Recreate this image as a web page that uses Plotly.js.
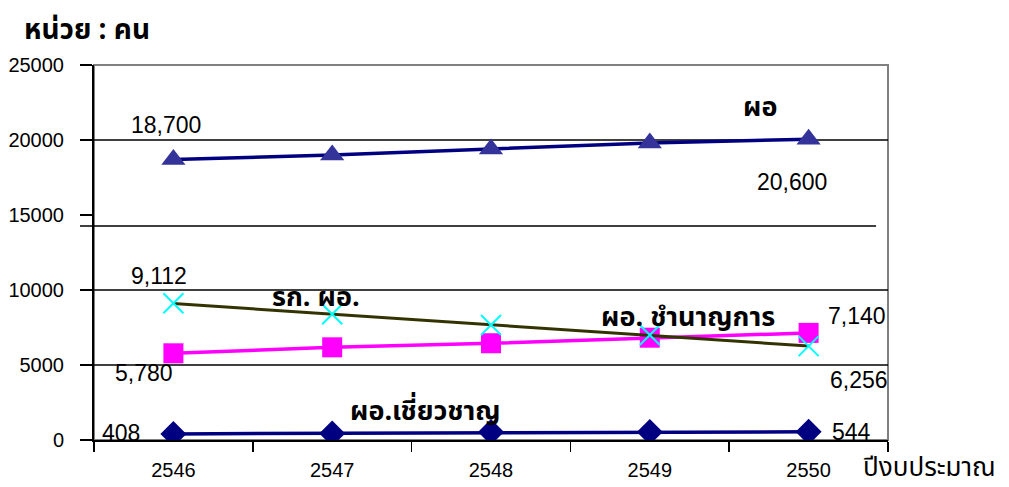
<!DOCTYPE html>
<html>
<head>
<meta charset="utf-8">
<script src="https://cdn.plot.ly/plotly-3.0.1.min.js"></script>
<style>html,body{margin:0;padding:0;background:#fff;}#chart{width:1009px;height:487px;}</style>
</head>
<body>
<div id="chart"></div>
<script>
// ---- data ----
const years = ['2546', '2547', '2548', '2549', '2550'];
const director = [18700, 19000, 19400, 19800, 20050];          // ผอ
const deputyDirector = [9112, 8380, 7667, 7000, 6256];          // รก. ผอ.
const professionalDirector = [5780, 6180, 6450, 6820, 7140];    // ผอ. ชำนาญการ
const expertDirector = [408, 440, 530, 535, 544];               // ผอ.เชี่ยวชาญ
const seriesNames = ['ผอ', 'รก. ผอ.', 'ผอ. ชำนาญการ', 'ผอ.เชี่ยวชาญ'];
const firstLabels = ['18,700', '9,112', '5,780', '408'];
const lastLabels = ['20,600', '6,256', '7,140', '544'];
const yTickVals = [0, 5000, 10000, 15000, 20000, 25000];
const gridVals = [5000, 10000, 20000];
const oddLineVal = 14267;

// linear trend of รก. ผอ.
const n = deputyDirector.length;
const idx = deputyDirector.map((_, i) => i);
const mx = idx.reduce((a, b) => a + b, 0) / n;
const my = deputyDirector.reduce((a, b) => a + b, 0) / n;
let sxy = 0, sxx = 0;
idx.forEach(i => { sxy += (i - mx) * (deputyDirector[i] - my); sxx += (i - mx) * (i - mx); });
const slope = sxy / sxx;
const trend = idx.map(i => my + slope * (i - mx));

const THAI = "Tahoma, 'Noto Sans Thai', 'Loma', 'Garuda', 'DejaVu Sans', sans-serif";
const NUM = "Arial, 'Liberation Sans', sans-serif";

const traces = [
  { x: years, y: expertDirector, mode: 'lines+markers', name: seriesNames[3],
    line: { color: '#000080', width: 3.5 },
    marker: { symbol: 'diamond', size: 20, color: '#000080' } },
  { x: years, y: director, mode: 'lines+markers', name: seriesNames[0],
    line: { color: '#000080', width: 3.5 },
    marker: { symbol: 'triangle-up', size: 21, color: '#333399' } },
  { x: years, y: professionalDirector, mode: 'lines+markers', name: seriesNames[2],
    line: { color: '#FF00FF', width: 3.5 },
    marker: { symbol: 'square', size: 20, color: '#FF00FF' } },
  { x: years, y: trend, mode: 'lines', name: 'trend',
    line: { color: '#333300', width: 3 } },
  { x: years, y: deputyDirector, mode: 'markers', name: seriesNames[1],
    marker: { symbol: 'x-thin', size: 20, color: '#00FFFF', line: { color: '#00FFFF', width: 2 } } }
];

const shapes = [];
shapes.push({ type: 'rect', xref: 'paper', yref: 'paper', x0: 0, x1: 1, y0: 0, y1: 1,
  line: { color: '#808080', width: 2 }, layer: 'below' });
gridVals.forEach(v => shapes.push({ type: 'line', xref: 'paper', yref: 'y', x0: 0, x1: 1, y0: v, y1: v,
  line: { color: '#000000', width: 1.6 }, layer: 'below' }));
shapes.push({ type: 'line', xref: 'paper', yref: 'y', x0: -0.0176, x1: 0.985, y0: oddLineVal, y1: oddLineVal,
  line: { color: '#000000', width: 1.6 }, layer: 'below' });

const lastIdx = years.length - 1;
const seriesArr = [director, deputyDirector, professionalDirector, expertDirector];
const firstShift = [[-7, 35], [-14, 27], [-29, -20], [-52, 1]];
const lastShift = [[-17, -43], [50, -34], [48, 17], [43, 0]];
const annotations = [];
seriesArr.forEach((s, k) => {
  annotations.push({ x: 0, y: s[0], xref: 'x', yref: 'y', text: firstLabels[k], showarrow: false,
    xanchor: 'center', yanchor: 'middle',
    xshift: firstShift[k][0], yshift: firstShift[k][1], font: { family: NUM, size: 23, color: '#000' } });
  annotations.push({ x: lastIdx, y: s[lastIdx], xref: 'x', yref: 'y', text: lastLabels[k], showarrow: false,
    xanchor: 'center', yanchor: 'middle',
    xshift: lastShift[k][0], yshift: lastShift[k][1], font: { family: NUM, size: 23, color: '#000' } });
});
const nameLabelPos = [[0.839, 0.888], [0.2796, 0.379], [0.748, 0.328], [0.417, 0.075]];
seriesNames.forEach((nm, k) => annotations.push({ xref: 'paper', yref: 'paper', x: nameLabelPos[k][0], y: nameLabelPos[k][1],
  xanchor: 'center', yanchor: 'middle',
  text: '<b>' + nm + '</b>', showarrow: false, font: { family: THAI, size: 27, color: '#000' } }));
annotations.push({ xref: 'paper', yref: 'paper', x: -0.009, y: 1.093, xanchor: 'center', yanchor: 'middle',
  text: '<b>หน่วย : คน</b>', showarrow: false, font: { family: THAI, size: 28, color: '#000' } });
annotations.push({ xref: 'paper', yref: 'paper', x: 1.052, y: -0.075, xanchor: 'center', yanchor: 'middle',
  text: 'ปีงบประมาณ', showarrow: false, font: { family: THAI, size: 26, color: '#000' } });

const layout = {
  width: 1009, height: 487,
  margin: { l: 94, r: 121, t: 65, b: 47 },
  paper_bgcolor: '#fff', plot_bgcolor: '#fff',
  showlegend: false,
  xaxis: { type: 'category', range: [-0.5, 4.5], tickson: 'boundaries', ticks: 'outside', ticklen: 10,
    tickcolor: '#000', tickwidth: 1.5, showline: true, linecolor: '#000', linewidth: 2, showgrid: false,
    ticklabelstandoff: 11, tickfont: { family: NUM, size: 20, color: '#000' }, fixedrange: true },
  yaxis: { range: [0, 25000], tickvals: yTickVals, tickformat: 'd', ticks: 'outside', ticklen: 12, tickcolor: '#000', tickwidth: 1.5,
    showline: true, linecolor: '#000', linewidth: 2, showgrid: false, zeroline: false,
    ticklabelstandoff: 12, tickfont: { family: NUM, size: 20, color: '#000' }, fixedrange: true },
  shapes: shapes,
  annotations: annotations
};

Plotly.newPlot('chart', traces, layout, { displayModeBar: false, staticPlot: true });
</script>
</body>
</html>
